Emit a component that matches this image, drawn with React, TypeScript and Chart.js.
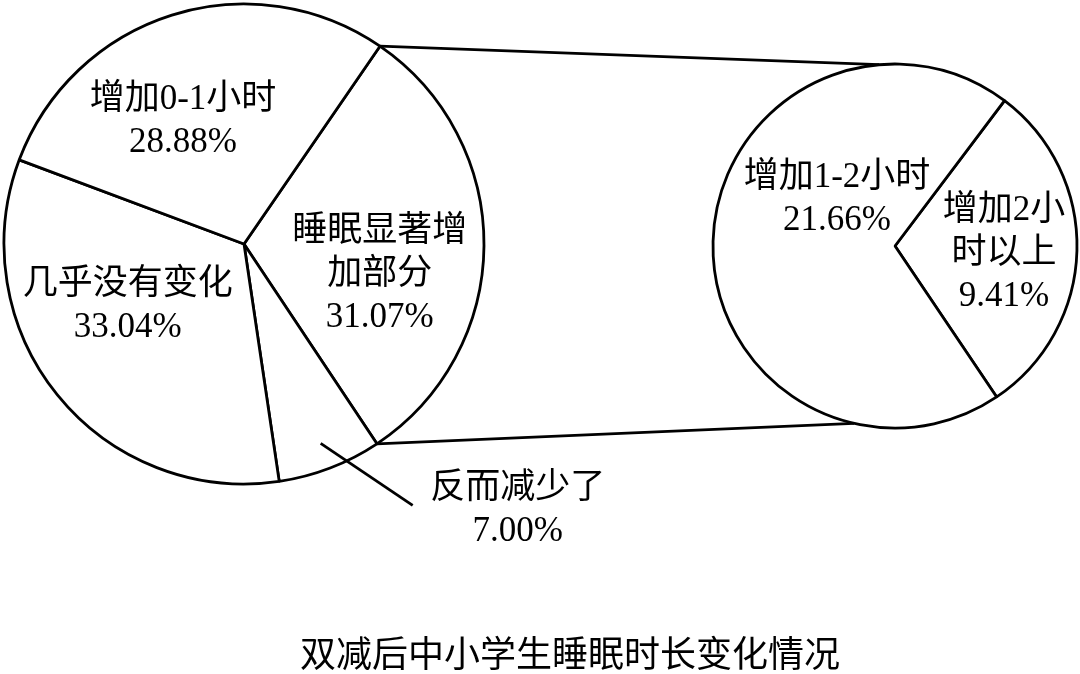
import { useEffect, useRef } from 'react'
import { Chart, ChartConfiguration, Plugin, registerables } from 'chart.js'

Chart.register(...registerables)

// 左侧饼图：整体分布（顺时针，从右上开始）
const leftCategories = ['睡眠显著增加部分', '反而减少了', '几乎没有变化', '增加0-1小时']
const leftValues = [31.07, 7.0, 33.04, 28.88]
const leftLines = [['睡眠显著增', '加部分'], ['反而减少了'], ['几乎没有变化'], ['增加0-1小时']]

// 右侧饼图：“睡眠显著增加部分”的拆分
const rightCategories = ['增加2小时以上', '增加1-2小时']
const rightValues = [9.41, 21.66]
const rightLines = [['增加2小', '时以上'], ['增加1-2小时']]

const titleText = '双减后中小学生睡眠时长变化情况'

// 标签位置（半径比例 / 相对扇区中线的角度偏移，单位度）
const leftLabelRadius = [0.58, 0.89, 0.55, 0.57]
const leftLabelShift = [12.4, 0, 10.7, -9]
const rightLabelRadius = [0.6, 0.41]
const rightLabelShift = [2.7, 37.5]
// 外部标签（反而减少了）的引导线
const outsideIndex = 1
const leaderDelta = { x: 92, y: 62 }
const leaderTextOffset = { x: 105, y: 5 }
// 连接线在右侧圆上的落点角度（从正上方顺时针，度）
const connectorAngles = [-5, 193]

const W = 1080
const H = 674
const FONT = '35px "Liberation Serif", "Noto Sans CJK SC", serif'
const LINE_H = 43
const STROKE = 2.8

const deg = Math.PI / 180

function drawBlock(ctx: CanvasRenderingContext2D, lines: string[], x: number, y: number) {
  const top = y - ((lines.length - 1) * LINE_H) / 2
  lines.forEach((ln, i) => ctx.fillText(ln, x, top + i * LINE_H))
}

function labelPlugin(
  lines: string[][],
  values: number[],
  radius: number[],
  shift: number[],
  outside: number | null
): Plugin {
  return {
    id: 'sliceLabels',
    afterDatasetsDraw(chart) {
      const ctx = chart.ctx
      const meta = chart.getDatasetMeta(0)
      ctx.save()
      ctx.font = FONT
      ctx.fillStyle = '#000'
      ctx.strokeStyle = '#000'
      ctx.lineWidth = STROKE
      ctx.textAlign = 'center'
      ctx.textBaseline = 'middle'
      meta.data.forEach((el, i) => {
        const { x, y, startAngle, endAngle, outerRadius } = (el as any).getProps(
          ['x', 'y', 'startAngle', 'endAngle', 'outerRadius'],
          true
        )
        const mid = (startAngle + endAngle) / 2 + shift[i] * deg
        const px = x + Math.cos(mid) * outerRadius * radius[i]
        const py = y + Math.sin(mid) * outerRadius * radius[i]
        const text = [...lines[i], values[i].toFixed(2) + '%']
        if (i === outside) {
          const ex = px + leaderDelta.x
          const ey = py + leaderDelta.y
          ctx.beginPath()
          ctx.moveTo(px, py)
          ctx.lineTo(ex, ey)
          ctx.stroke()
          drawBlock(ctx, text, ex + leaderTextOffset.x, ey + leaderTextOffset.y)
        } else {
          drawBlock(ctx, text, px, py)
        }
      })
      ctx.restore()
    },
  }
}

function pieConfig(
  labels: string[],
  data: number[],
  rotation: number,
  radius: number,
  padding: { left: number; right: number; top: number; bottom: number },
  plugins: Plugin[]
): ChartConfiguration {
  return {
    type: 'pie',
    data: {
      labels,
      datasets: [
        {
          data,
          backgroundColor: '#ffffff',
          borderColor: '#000000',
          borderWidth: STROKE,
        },
      ],
    },
    options: {
      responsive: false,
      animation: false,
      events: [],
      rotation,
      radius,
      layout: { padding },
      plugins: {
        legend: { display: false },
        tooltip: { enabled: false },
      },
    } as any,
    plugins,
  }
}

export default function App() {
  const leftRef = useRef<HTMLCanvasElement>(null)
  const rightRef = useRef<HTMLCanvasElement>(null)

  useEffect(() => {
    if (!leftRef.current || !rightRef.current) return

    const left = new Chart(
      leftRef.current,
      pieConfig(
        leftCategories,
        leftValues,
        34.5,
        240,
        { left: 4, top: 4, right: W - 484, bottom: H - 484 },
        [labelPlugin(leftLines, leftValues, leftLabelRadius, leftLabelShift, outsideIndex)]
      )
    )

    // 连接线：左图“睡眠显著增加部分”扇区两端 → 右图圆周
    const connectors: Plugin = {
      id: 'connectors',
      beforeDatasetsDraw(chart) {
        const src = left.getDatasetMeta(0).data[0] as any
        const dst = chart.getDatasetMeta(0).data[0] as any
        if (!src || !dst) return
        const s = src.getProps(['x', 'y', 'startAngle', 'endAngle', 'outerRadius'], true)
        const d = dst.getProps(['x', 'y', 'outerRadius'], true)
        const ends = [s.startAngle, s.endAngle]
        const ctx = chart.ctx
        ctx.save()
        ctx.strokeStyle = '#000'
        ctx.lineWidth = STROKE
        ends.forEach((a, i) => {
          const b = (connectorAngles[i] - 90) * deg
          ctx.beginPath()
          ctx.moveTo(s.x + Math.cos(a) * s.outerRadius, s.y + Math.sin(a) * s.outerRadius)
          ctx.lineTo(d.x + Math.cos(b) * d.outerRadius, d.y + Math.sin(b) * d.outerRadius)
          ctx.stroke()
        })
        ctx.restore()
      },
    }

    const right = new Chart(
      rightRef.current,
      pieConfig(
        rightCategories,
        rightValues,
        37,
        182,
        { left: 713, top: 64, right: 3, bottom: H - 428 },
        [connectors, labelPlugin(rightLines, rightValues, rightLabelRadius, rightLabelShift, null)]
      )
    )

    return () => {
      right.destroy()
      left.destroy()
    }
  }, [])

  const layer: React.CSSProperties = { position: 'absolute', left: 0, top: 0, width: W, height: H }

  return (
    <div style={{ position: 'absolute', left: 0, top: 0, width: W, height: H, background: '#fff' }}>
      <canvas ref={leftRef} width={W} height={H} style={layer} />
      <canvas ref={rightRef} width={W} height={H} style={layer} />
      <div
        style={{
          position: 'absolute',
          left: 170,
          width: 800,
          top: 635,
          lineHeight: '40px',
          textAlign: 'center',
          fontSize: 36,
          fontFamily: '"Liberation Serif", "Noto Sans CJK SC", serif',
          color: '#000',
        }}
      >
        {titleText}
      </div>
    </div>
  )
}
